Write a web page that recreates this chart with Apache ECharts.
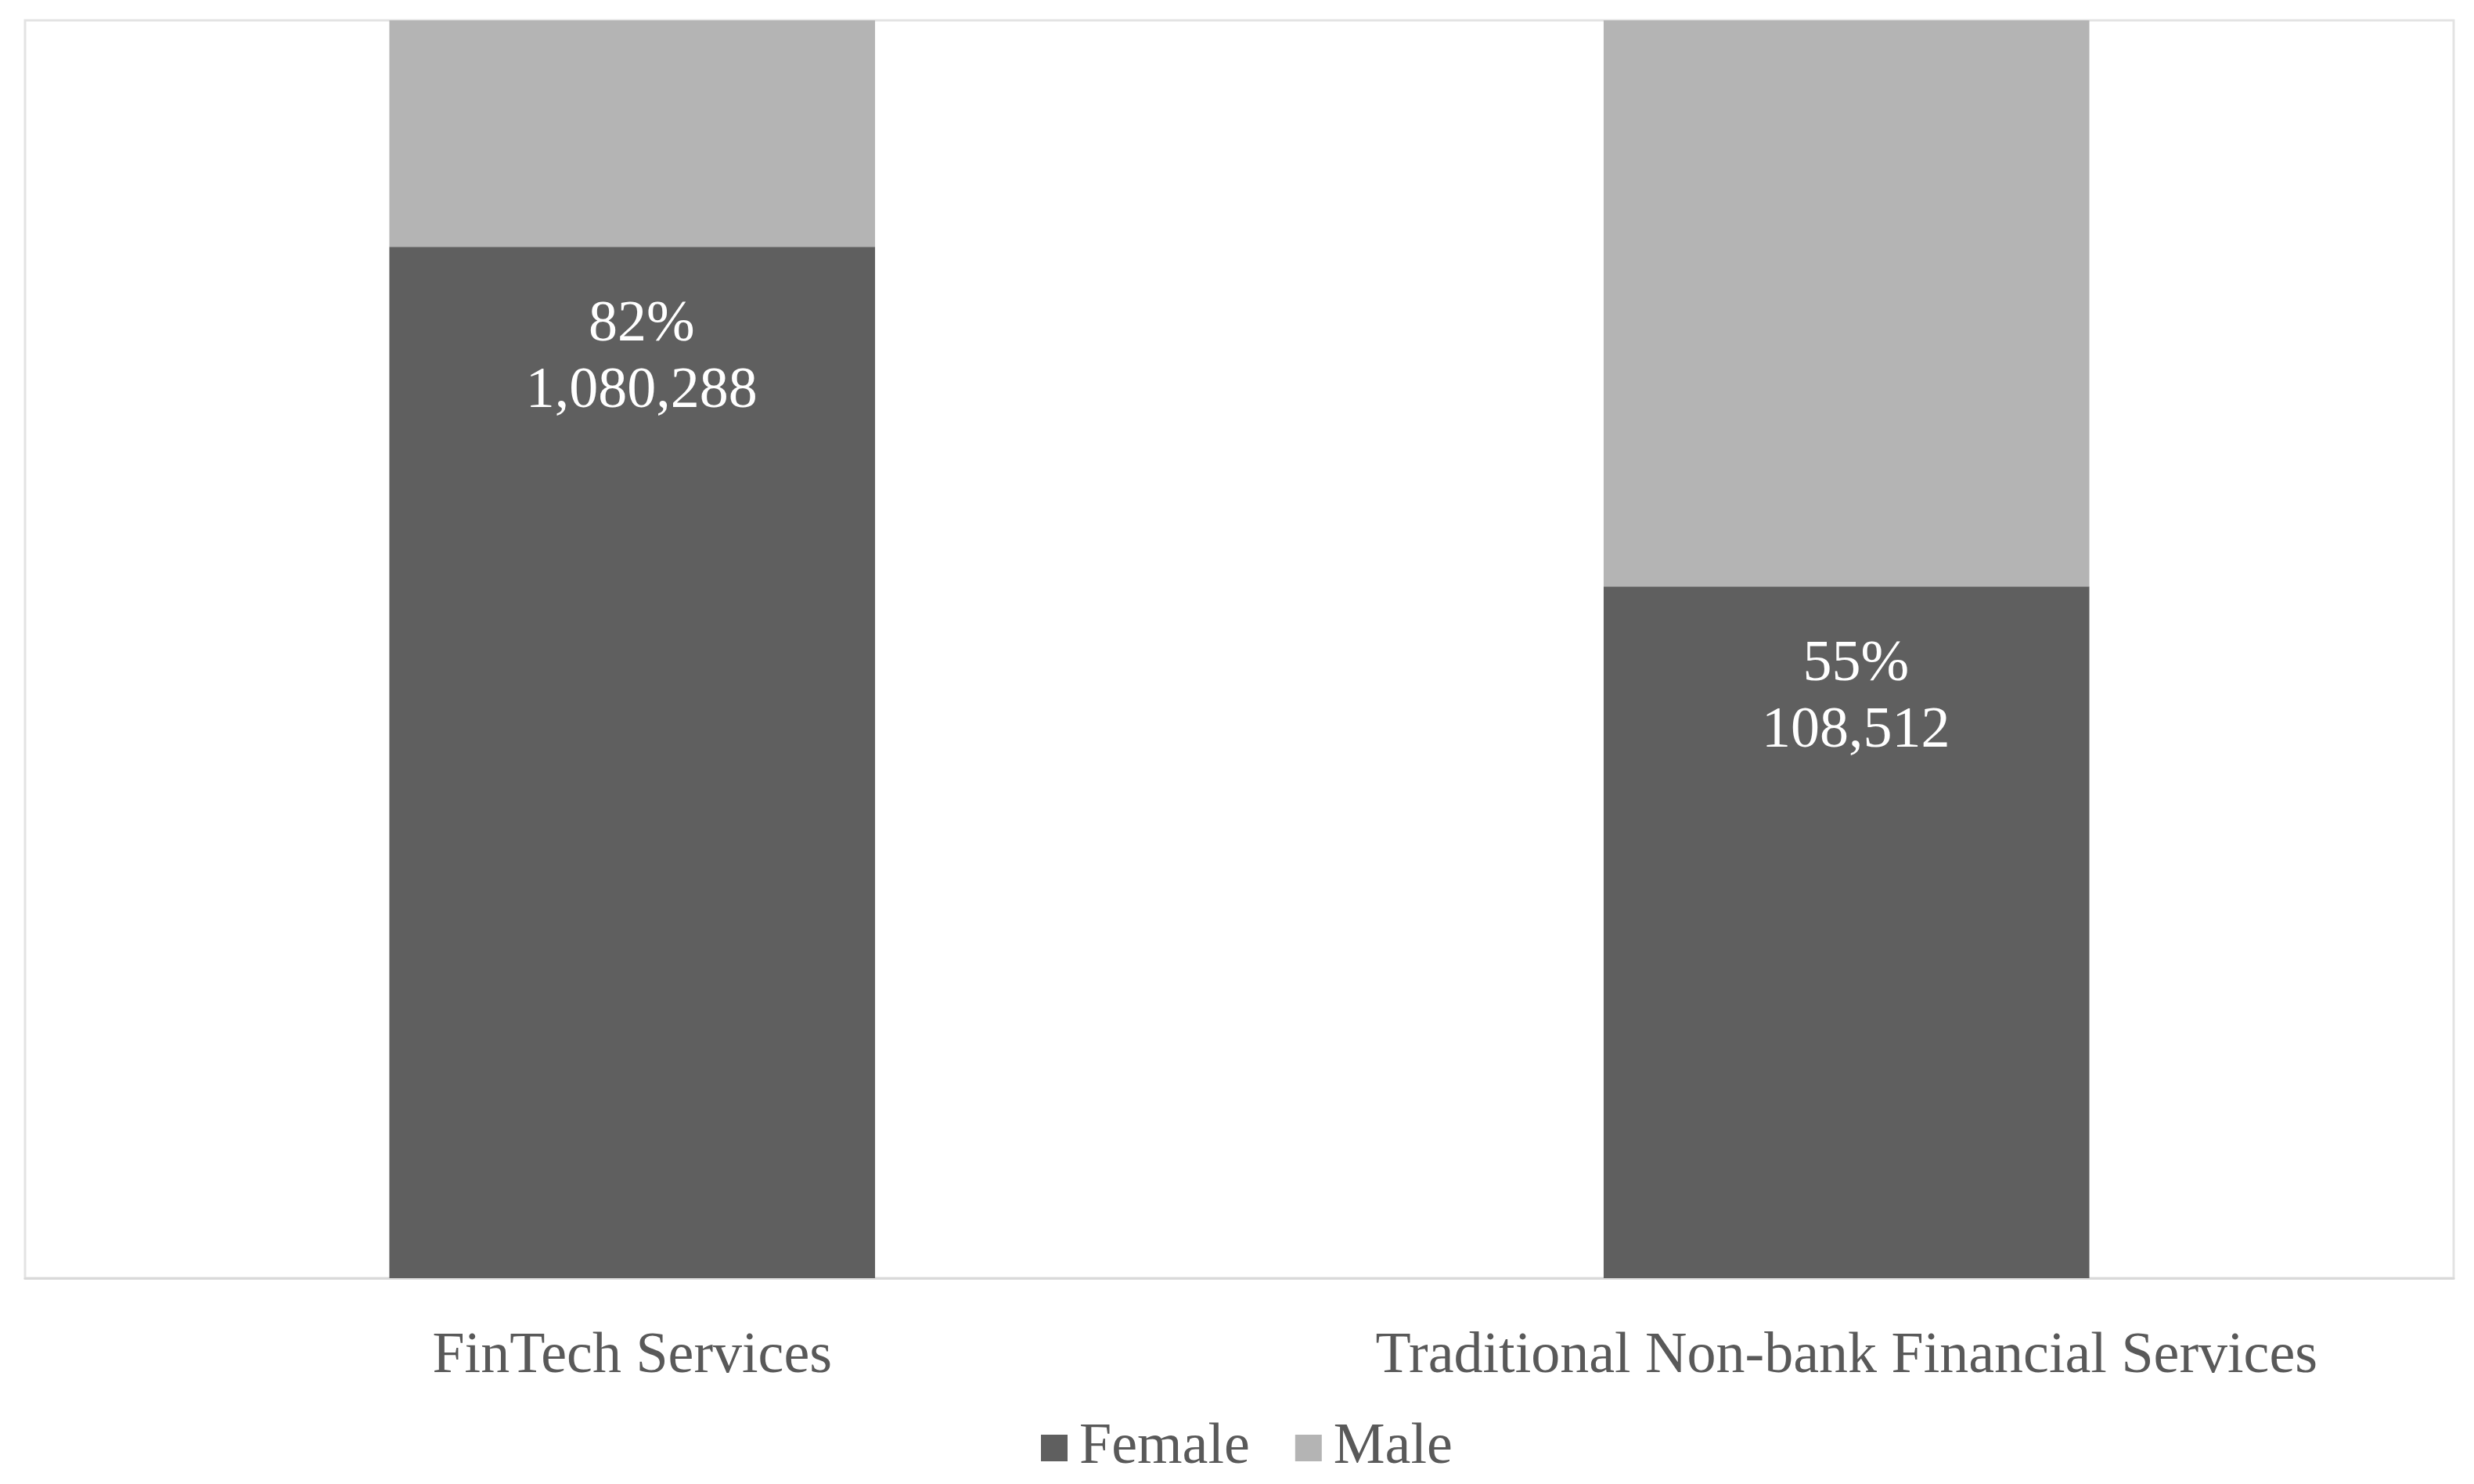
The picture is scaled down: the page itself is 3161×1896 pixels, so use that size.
<!DOCTYPE html>
<html>
<head>
<meta charset="utf-8">
<script src="https://cdn.jsdelivr.net/npm/echarts@6/dist/echarts.min.js"></script>
<style>html,body{margin:0;padding:0;background:#fff}#c{width:3161px;height:1896px}</style>
</head>
<body>
<div id="c"></div>
<script>
const categories = ['FinTech Services', 'Traditional Non-bank Financial Services'];
const femalePct = [82, 55];
const malePct = [18, 45];
const femaleCount = [1080288, 108512];
const seriesNames = ['Female', 'Male'];

const FONT = '"Liberation Serif", "Times New Roman", serif';
const chart = echarts.init(document.getElementById('c'));
chart.setOption({
  backgroundColor: '#ffffff',
  animation: false,
  grid: { left: 32, right: 26, top: 26, bottom: 263, show: true, borderColor: '#e3e3e3', borderWidth: 3, containLabel: false },
  legend: {
    data: seriesNames,
    top: 1808,
    left: 1325,
    itemWidth: 34,
    itemHeight: 34,
    itemGap: 58,
    icon: 'rect',
    textStyle: { fontFamily: FONT, fontSize: 74, color: '#595959', padding: [0, 0, 0, 10] }
  },
  xAxis: {
    type: 'category',
    data: categories,
    axisLine: { show: true, lineStyle: { color: '#d9d9d9', width: 3 } },
    axisTick: { show: false },
    axisLabel: { interval: 0, fontFamily: FONT, fontSize: 74, color: '#595959', margin: 64 }
  },
  yAxis: { type: 'value', min: 0, max: 100, show: false, splitLine: { show: false } },
  series: [
    {
      name: 'Female', type: 'bar', stack: 'total', barWidth: '40%',
      data: femalePct,
      itemStyle: { color: '#5f5f5f' },
      label: {
        show: true, position: 'insideTop', distance: 58, offset: [12, 0],
        fontFamily: FONT, fontSize: 74, lineHeight: 85, color: '#ffffff',
        formatter: p => p.value + '%\n' + femaleCount[p.dataIndex].toLocaleString('en-US')
      }
    },
    {
      name: 'Male', type: 'bar', stack: 'total', barWidth: '40%',
      data: malePct,
      itemStyle: { color: '#b4b4b4' }
    }
  ]
});
</script>
</body>
</html>
